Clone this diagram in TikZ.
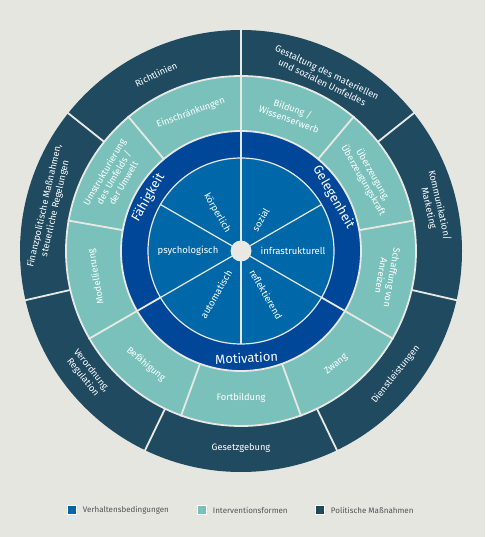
\documentclass[tikz,border=0pt]{standalone}
\usepackage{fontspec}
\setmainfont{Fira Sans}
\usetikzlibrary{positioning}
\definecolor{bggray}{HTML}{E6E6E1}
\definecolor{innerblue}{HTML}{0068A8}
\definecolor{ringblue}{HTML}{00479A}
\definecolor{tealcol}{HTML}{7BC1BB}
\definecolor{darkcol}{HTML}{1F4A60}
\definecolor{gapcol}{HTML}{E8E8E4}
\begin{document}
\begin{tikzpicture}[
		gap/.style={draw=gapcol, line width=1.8pt},
		thingap/.style={draw=gapcol, line width=1.2pt},
		lbl/.style={text=white, font=\fontsize{9.3}{11}\selectfont, align=center, inner sep=0pt},
		src/.style={lbl, font=\fontsize{9.5}{11}\selectfont},
		com/.style={lbl, font=\fontsize{13}{15}\selectfont},
		key/.style={minimum size=9pt, inner sep=0pt, draw=white, line width=0.5pt},
		keytext/.style={text=black!68, font=\fontsize{8}{9}\selectfont, inner sep=0pt}
	]
	\fill[bggray] (-241pt,-286pt) rectangle (244pt,251pt);
	\useasboundingbox (-241pt,-286pt) rectangle (244pt,251pt);
	\fill[darkcol] (0,0) circle[radius=221pt];
	\filldraw[fill=tealcol, gap] (0,0) circle[radius=175pt];
	\foreach \a in {0,...,6}
		\draw[gap] ({90+\a*360/7}:175pt) -- ({90+\a*360/7}:222pt);
	\filldraw[fill=ringblue, gap] (0,0) circle[radius=120pt];
	\foreach \a in {0,...,8}
		\draw[gap] ({90+\a*40}:120pt) -- ({90+\a*40}:176pt);
	\filldraw[fill=innerblue, thingap] (0,0) circle[radius=93pt];
	\foreach \a in {90,210,330}
		\draw[gap] (\a:93pt) -- (\a:121pt);
	\foreach \a in {30,90,...,330}
		\draw[thingap] (0,0) -- (\a:93pt);
	\fill[gapcol] (0,0) circle[radius=10.5pt];
	\node[lbl, rotate=25.7] (richtlinien) at (115.7:196pt) {Richtlinien};
	\node[lbl, rotate=-25.7] (gestaltung) at (64.3:193pt) {Gestaltung des materiellen\\und sozialen Umfeldes};
	\node[lbl, rotate=-77.1] (kommunikation) at (12.9:198pt) {Kommunikation/\\Marketing};
	\node[lbl, rotate=51.4] (dienstleistungen) at (-38.6:198pt) {Dienstleistungen};
	\node[lbl] (gesetzgebung) at (270:197pt) {Gesetzgebung};
	\node[lbl, rotate=-51.4] (verordnung) at (218.6:197pt) {Verordnung,\\Regulation};
	\node[lbl, rotate=77.1] (finanzpolitik) at (167.1:196pt) {Finanzpolitische Maßnahmen,\\steuerliche Regelungen};
	\node[lbl, rotate=20] (einschraenkungen) at (110:147pt) {Einschränkungen};
	\node[lbl, rotate=-20] (bildung) at (70:146pt) {Bildung /\\Wissenserwerb};
	\node[lbl, rotate=-60] (ueberzeugung) at (30:147pt) {Überzeugung,\\Überzeugungskraft};
	\node[lbl, rotate=-100] (anreize) at (-10:148pt) {Schaffung von\\Anreizen};
	\node[lbl, rotate=40] (zwang) at (-50:148pt) {Zwang};
	\node[lbl] (fortbildung) at (-90:147pt) {Fortbildung};
	\node[lbl, rotate=-40] (befaehigung) at (230:148pt) {Befähigung};
	\node[lbl, rotate=100] (modellierung) at (190:147pt) {Modellierung};
	\node[lbl, rotate=60] (umstrukturierung) at (150:147pt) {Umstrukturierung\\des Umfelds /\\der Umwelt};
	\node[com, rotate=60] (faehigkeit) at (150:107pt) {Fähigkeit};
	\node[com, rotate=-60] (gelegenheit) at (30:107pt) {Gelegenheit};
	\node[com, rotate=3] (motivation) at (-87:107pt) {Motivation};
	\node[src, rotate=-60] (koerperlich) at (122:45pt) {körperlich};
	\node[src, rotate=60] (sozial) at (58:37pt) {sozial};
	\node[src] (psychologisch) at (180:53pt) {psychologisch};
	\node[src] (infrastrukturell) at (0:52pt) {infrastrukturell};
	\node[src, rotate=60] (automatisch) at (240:50pt) {automatisch};
	\node[src, rotate=-60] (reflektierend) at (300:50pt) {reflektierend};
	\node[key, fill=innerblue] (k-verhalten) at (-169pt,-259pt) {};
	\node[keytext, right=6pt of k-verhalten] (t-verhalten) {Verhaltensbedingungen};
	\node[key, fill=tealcol] (k-intervention) at (-39pt,-259pt) {};
	\node[keytext, right=6pt of k-intervention] (t-intervention) {Interventionsformen};
	\node[key, fill=darkcol] (k-politik) at (79pt,-259pt) {};
	\node[keytext, right=6pt of k-politik] (t-politik) {Politische Maßnahmen};
\end{tikzpicture}
\end{document}
